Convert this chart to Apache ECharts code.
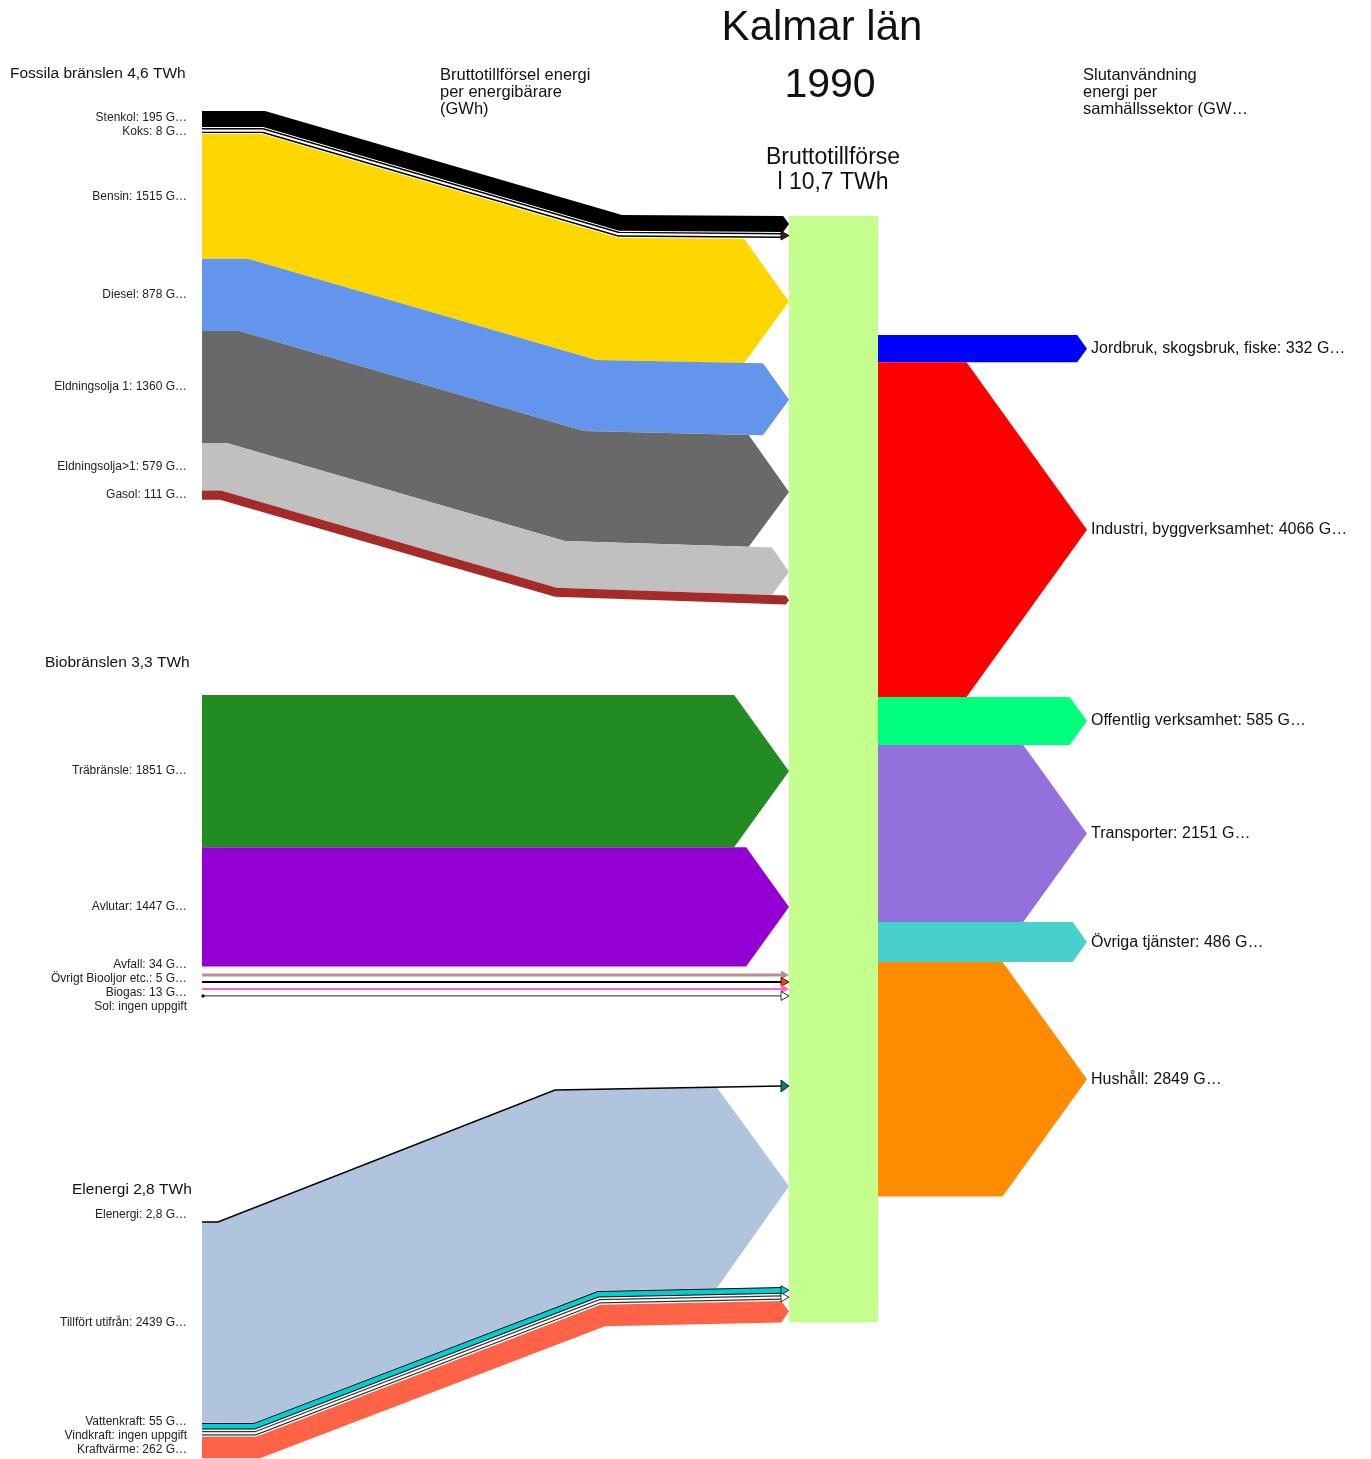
<!DOCTYPE html>
<html><head><meta charset="utf-8">
<script src="https://cdn.jsdelivr.net/npm/echarts@6/dist/echarts.min.js"></script>
<style>html,body{margin:0;padding:0;background:#fff}#c{width:1371px;height:1459px}</style>
</head><body><div id="c"></div>
<script>
// ---------------- DATA ----------------
const fossilNames  = ['Stenkol','Koks','Bensin','Diesel','Eldningsolja 1','Eldningsolja>1','Gasol'];
const fossilValues = [195, 8, 1515, 878, 1360, 579, 111];
const fossilColors = ['#000000','#4a1c0c','#ffd700','#6495ed','#696969','#c0c0c0','#a52a2a'];

const bioNames  = ['Träbränsle','Avlutar','Avfall','Övrigt Biooljor etc.','Biogas','Sol'];
const bioValues = [1851, 1447, 34, 5, 13, null];
const bioColors = ['#228b22','#9400d3','#bc8f8f','#ff4500','#ff69b4','#ffffff'];

const elNames  = ['Elenergi','Tillfört utifrån','Vattenkraft','Vindkraft','Kraftvärme'];
const elValues = [2.8, 2439, 55, null, 262];
const elColors = ['#008080','#b0c4de','#00ced1','#ffffff','#ff6347'];

const sectorNames  = ['Jordbruk, skogsbruk, fiske','Industri, byggverksamhet','Offentlig verksamhet','Transporter','Övriga tjänster','Hushåll'];
const sectorValues = [332, 4066, 585, 2151, 486, 2849];
const sectorColors = ['#0000ff','#ff0000','#00ff7f','#9370db','#48d1cc','#ff8c00'];

const titleText = 'Kalmar län';
const yearText = '1990';
const groupHeaders = ['Fossila bränslen 4,6 TWh','Biobränslen 3,3 TWh','Elenergi 2,8 TWh'];
const centerHeader = ['Bruttotillförse','l 10,7 TWh'];
const leftHeader = ['Bruttotillförsel energi','per energibärare','(GWh)'];
const rightHeader = ['Slutanvändning','energi per','samhällssektor (GW…'];

// ---------------- STYLE / LAYOUT ----------------
const W = 1371, H = 1459;
const Y_MAX = 17728;          // GWh spanned by the full height
const FONT = "'Liberation Sans', Arial, sans-serif";
const LEFT_X = 202, TIP_X = 789, BAR_X0 = 789, BAR_X1 = 878, RIGHT_TIP = 1087;
const HEAD_RATIO = 0.72, THIN = 6, SLOT = 7, RIGHT_TOP = 335, LABEL_GAP = 14;
const thinStyle = {
  'Koks': {outline:'#000', line:'#ffffff', lineW:2.2, outW:5},
  'Avfall': {line:'#bc8f8f', lineW:3, noHeadStroke:true},
  'Övrigt Biooljor etc.': {line:'#000000', lineW:2},
  'Biogas': {line:'#ff69b4', lineW:2, noHeadStroke:true},
  'Sol': {line:'#555555', lineW:1.2, dot:true},
  'Elenergi': {line:'#000000', lineW:1.5, slot:0, labelDy:-7, headH:6},
  'Vattenkraft': {outline:'#000', line:'#00ced1', lineW:4.5, outW:6.5},
  'Vindkraft': {outline:'#333', line:'#ffffff', lineW:2, outW:4.5}
};
const groups = [
  {names:fossilNames, values:fossilValues, colors:fossilColors, top:111, shift:105, b1:[265,220], b2:[622,555], s2:[104,97], tinyGap:0},
  {names:bioNames, values:bioValues, colors:bioColors, top:695, shift:0, b1:null, tinyGap:5},
  {names:elNames, values:elValues, colors:elColors, top:1222, shift:-136, b1:[218,260], b2:[555,605], s2:[-132,-132], tinyGap:0}
];

function fmt(v){ return v == null ? 'ingen uppgift' : String(v).replace('.', ',') + ' G…'; }
function boundary(L, u, y){
  if (!L.b1) return [[LEFT_X, y], [TIP_X, y]];
  const lerp = a => a[0] + (a[1] - a[0]) * u;
  return [[LEFT_X, y], [lerp(L.b1), y], [lerp(L.b2), y + lerp(L.s2)], [TIP_X, y + L.shift]];
}
function evalAt(pts, x){
  for (let i = 0; i < pts.length - 1; i++){
    const a = pts[i], b = pts[i+1];
    if (x >= a[0] && x <= b[0]) return a[1] + (b[1]-a[1]) * (x - a[0]) / ((b[0]-a[0]) || 1);
  }
  return pts[pts.length-1][1];
}
function spreadLabels(items){
  items.sort((a,b)=>a.y-b.y);
  let cl = items.map(it => ({items:[it], c:it.y}));
  let merged = true;
  while (merged){
    merged = false;
    for (let i = 0; i < cl.length-1; i++){
      const a = cl[i], b = cl[i+1];
      const aBot = a.c + (a.items.length-1)*LABEL_GAP/2, bTop = b.c - (b.items.length-1)*LABEL_GAP/2;
      if (bTop - aBot < LABEL_GAP){
        const all = a.items.concat(b.items);
        cl.splice(i, 2, {items: all, c: all.reduce((s,t)=>s+t.y,0)/all.length});
        merged = true; break;
      }
    }
  }
  cl.forEach(c => c.items.forEach((it, j) => { it.ly = c.c + (j - (c.items.length-1)/2) * LABEL_GAP; }));
}

function renderItem(params, api){
  const px = v => v == null ? 0 : api.size([0, v])[1];
  const children = [];
  const labels = [];
  const flows = [];
  let barTop = null, barBot = null;
  groups.forEach(L => {
    let cur = L.top; let firstTiny = true;
    const items = L.names.map((n, i) => {
      const t = px(L.values[i]);
      const st = thinStyle[n];
      const thin = t < THIN;
      if (thin && firstTiny && L.tinyGap){ cur += L.tinyGap; }
      if (thin) firstTiny = false;
      const slot = thin ? (st && st.slot != null ? st.slot : SLOT) : t;
      const it = {n, i, t, thin, st, y0: cur, y1: cur + slot, c: cur + slot/2, color: L.colors[i], v: L.values[i]};
      cur += slot;
      return it;
    });
    const gTop = L.top, gBot = cur;
    const U = y => (y - gTop) / ((gBot - gTop) || 1);
    if (barTop == null) barTop = gTop + L.shift;
    barBot = gBot + L.shift;
    items.forEach(it => {
      if (!it.thin){
        const T = boundary(L, U(it.y0), it.y0), B = boundary(L, U(it.y1), it.y1);
        const tR = evalAt(T, TIP_X), bR = evalAt(B, TIP_X);
        const half = (bR - tR)/2, mid = (tR + bR)/2;
        const xs = TIP_X - HEAD_RATIO * half;
        const pts = [];
        T.forEach(p => { if (p[0] < xs) pts.push(p); });
        pts.push([xs, evalAt(T, xs)], [TIP_X, mid], [xs, evalAt(B, xs)]);
        B.slice().reverse().forEach(p => { if (p[0] < xs) pts.push(p); });
        flows.push({type:'polygon', shape:{points:pts}, style:{fill:it.color}});
      } else {
        const st = it.st || {};
        const C = boundary(L, U(it.c), it.c);
        const xe = TIP_X - 7;
        const pts = C.filter(p => p[0] < xe); pts.push([xe, evalAt(C, xe)]);
        const lw = Math.max(it.t, st.lineW || 1.5);
        it.late = [];
        if (st.outline) it.late.push({type:'polyline', shape:{points:pts}, style:{stroke:st.outline, lineWidth: Math.max(lw + 2, st.outW || 0), fill:null}});
        it.late.push({type:'polyline', shape:{points:pts}, style:{stroke: st.line || it.color, lineWidth: lw, fill:null}});
        const c = evalAt(C, TIP_X), hh = st.headH || 4.5;
        it.late.push({type:'polygon', shape:{points:[[xe-1, c-hh],[TIP_X, c],[xe-1, c+hh]]},
          style:{fill: it.color, stroke: st.noHeadStroke ? null : '#000', lineWidth: 0.8}});
        if (st.dot) it.late.push({type:'circle', shape:{cx:LEFT_X+1, cy:it.c, r:1.6}, style:{fill:'#000'}});
      }
      labels.push({y: it.c + ((it.st && it.st.labelDy) || 0), text: it.n + ': ' + fmt(it.v)});
    });
    items.forEach(it => { if (it.late) it.late.forEach(e => flows.push(e)); });
  });
  // central bar
  children.push({type:'rect', shape:{x:BAR_X0, y:barTop, width:BAR_X1-BAR_X0, height:barBot-barTop}, style:{fill:'#c4ff8e'}});
  flows.forEach(f => children.push(f));
  // right flows
  let cur = RIGHT_TOP;
  sectorValues.forEach((v, i) => {
    const t = px(v), top = cur, bot = cur + t, mid = (top+bot)/2;
    const xs = RIGHT_TIP - HEAD_RATIO * t/2;
    children.push({type:'polygon', shape:{points:[[BAR_X1, top],[xs, top],[RIGHT_TIP, mid],[xs, bot],[BAR_X1, bot]]}, style:{fill:sectorColors[i]}});
    children.push({type:'text', style:{text: sectorNames[i] + ': ' + fmt(v), x: RIGHT_TIP + 4, y: mid, align:'left', verticalAlign:'middle', fontSize:16, fontFamily:FONT, fill:'#111'}});
    cur = bot;
  });
  spreadLabels(labels);
  labels.forEach(l => children.push({type:'text', style:{text:l.text, x:187, y:l.ly, align:'right', verticalAlign:'middle', fontSize:12, fontFamily:FONT, fill:'#222'}}));
  return {type:'group', children};
}

const txt = (text, x, y, size, align) => ({type:'text', x, y, style:{text, fontSize:size, fontFamily:FONT, fill:'#111', align: align || 'left', verticalAlign:'middle'}});
const graphic = [
  txt(titleText, 822, 28, 42, 'center'),
  txt(yearText, 830, 86, 41, 'center'),
  txt(centerHeader[0], 833, 158, 23, 'center'),
  txt(centerHeader[1], 833, 183, 23, 'center'),
  txt(groupHeaders[0], 10, 74, 15.5),
  txt(groupHeaders[1], 45, 663, 15.5),
  txt(groupHeaders[2], 72, 1190, 15.5),
  ...leftHeader.map((t, i) => txt(t, 440, 75 + i*17, 16.5)),
  ...rightHeader.map((t, i) => txt(t, 1083, 75 + i*17, 16.5))
];

const chart = echarts.init(document.getElementById('c'), null, {renderer:'canvas'});
chart.setOption({
  animation:false,
  backgroundColor:'#ffffff',
  grid:{left:0, right:0, top:0, bottom:0},
  xAxis:{type:'value', min:0, max:W, show:false},
  yAxis:{type:'value', min:0, max:Y_MAX, inverse:true, show:false},
  graphic,
  series:[{type:'custom', coordinateSystem:'cartesian2d', silent:true, data:[[0,0]], renderItem}]
});
</script></body></html>
